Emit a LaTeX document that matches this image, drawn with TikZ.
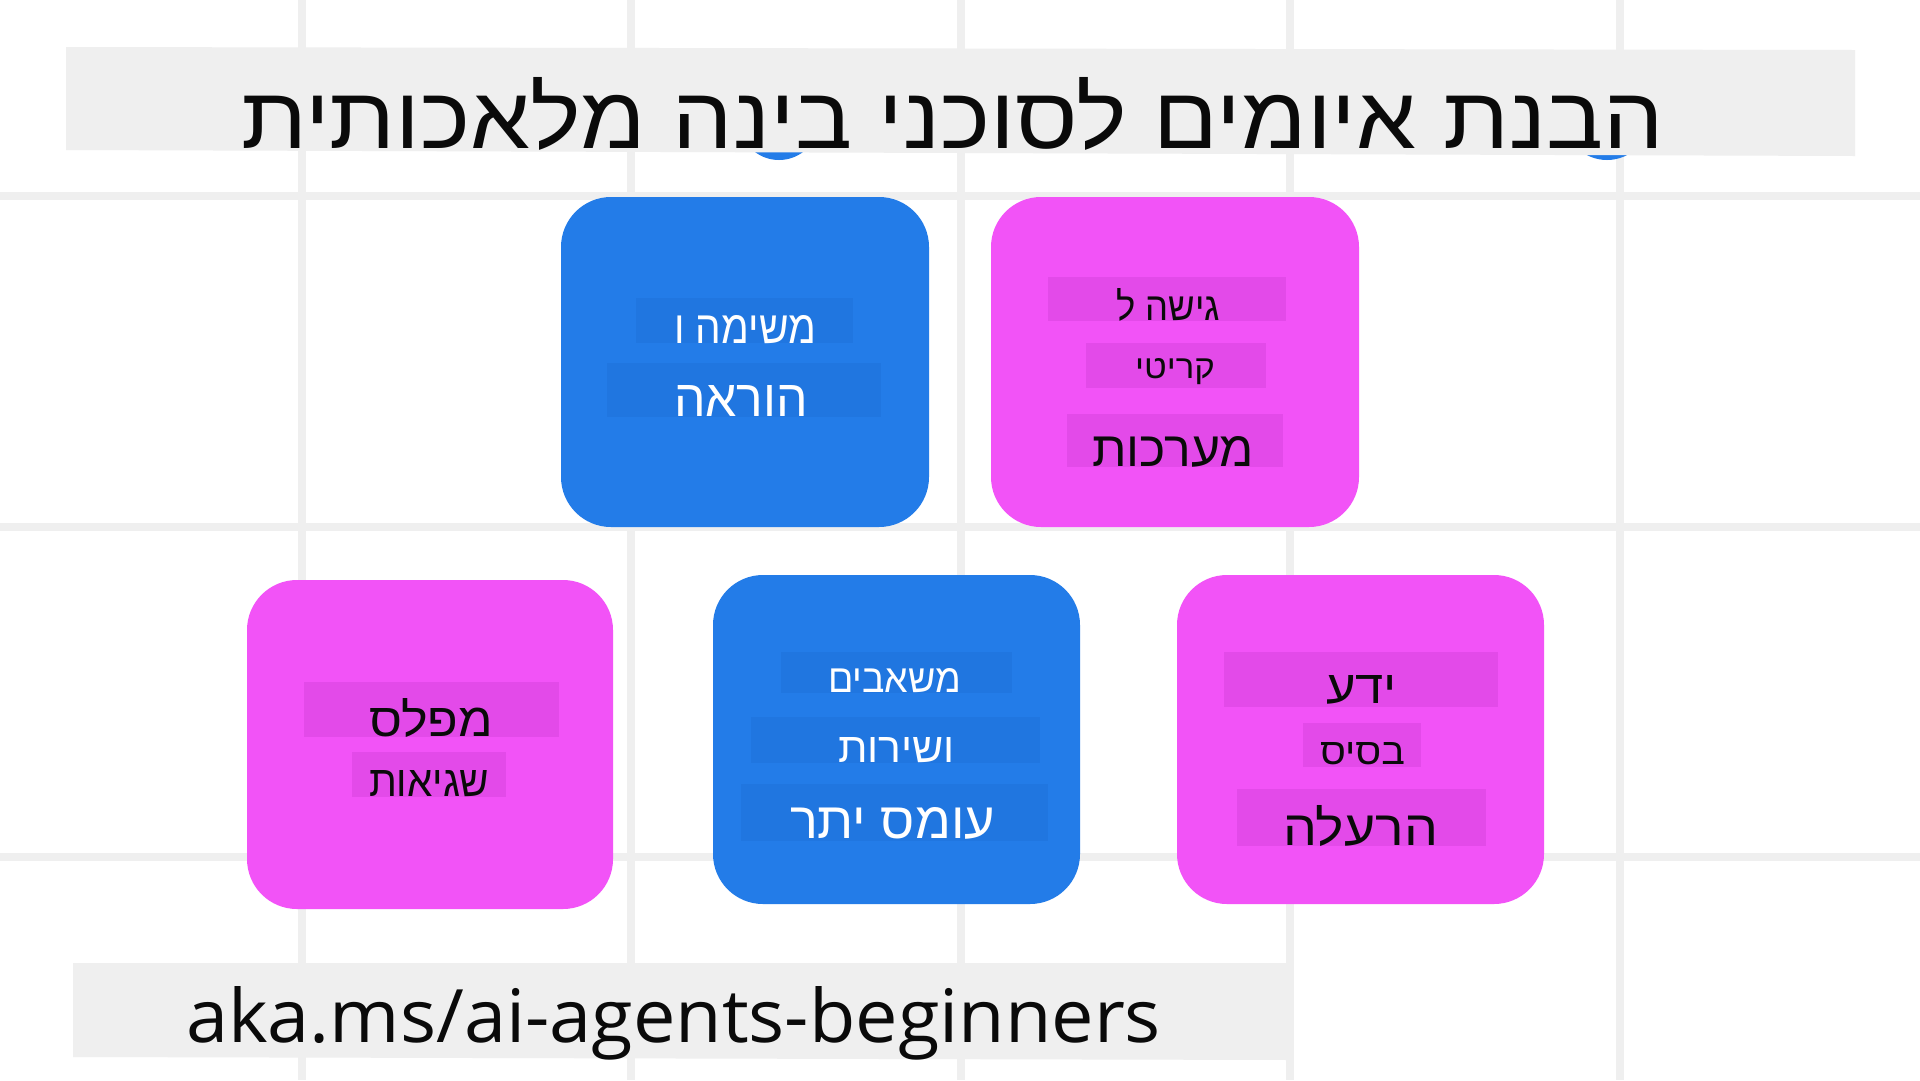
\documentclass[tikz,border=0pt]{standalone}
\usepackage{fontspec}
\usepackage{graphicx}
\newfontfamily\hebfont[Script=Hebrew]{Liberation Sans}
\newfontfamily\urlfont{Open Sans}
\TeXXeTstate=1
\definecolor{gridc}{HTML}{EFEFEF}
\definecolor{titlebg}{HTML}{EFEFEF}
\definecolor{blueA}{HTML}{237CE8}
\definecolor{blueB}{HTML}{2076E0}
\definecolor{pinkA}{HTML}{F253F7}
\definecolor{pinkB}{HTML}{E34AE9}
\definecolor{ink}{HTML}{0A0A0A}
\newcommand\fitR[3]{\resizebox{#1pt}{#2pt}{\hebfont #3}}
\begin{document}
\begin{tikzpicture}[x=1pt,y=-1pt,
  gridline/.style={draw=gridc,line width=8pt},
  card/.style={rectangle,rounded corners=50pt,inner sep=0pt,outer sep=0pt,draw=none},
  lbl/.style={inner sep=0pt,outer sep=0pt,anchor=base west}]
\useasboundingbox (0,0) rectangle (1920,1080);
\fill[white] (0,0) rectangle (1920,1080);
% grid
\foreach \x in {302,631,961,1290,1620} \draw[gridline] (\x,0) -- (\x,1080);
\foreach \y in {196,527,857} \draw[gridline] (0,\y) -- (1920,\y);
% blue dots peeking under the title
\fill[blueA] (779,120) circle (40);
\fill[blueA] (1607,117) circle (43);
% title
\fill[titlebg] (66,47) -- (1855,50) -- (1855,156) -- (66,150) -- cycle;
\node[lbl,text=ink] (title) at (241,148) {\fitR{1422}{71}{\beginR הבנת איומים לסוכני בינה מלאכותית\endR}};
% cards
\node[card,fill=blueA,minimum width=368pt,minimum height=330pt] (b1) at (745,362) {};
\node[card,fill=pinkA,minimum width=368pt,minimum height=330pt] (p1) at (1175,362) {};
\node[card,fill=pinkA,minimum width=366pt,minimum height=329pt] (p2) at (430,744.5) {};
\node[card,fill=blueA,minimum width=367pt,minimum height=329pt] (b2) at (896.5,739.5) {};
\node[card,fill=pinkA,minimum width=367pt,minimum height=329pt] (p3) at (1360.5,739.5) {};
% bands
\fill[blueB] (636,298) rectangle (853,343);
\fill[blueB] (607,363) rectangle (881,417);
\fill[pinkB] (1048,277) rectangle (1286,321);
\fill[pinkB] (1086,343) rectangle (1266,388);
\fill[pinkB] (1067,414) rectangle (1283,467);
\fill[pinkB] (304,682) rectangle (559,737);
\fill[pinkB] (352,752) rectangle (506,797);
\fill[blueB] (781,652) rectangle (1012,693);
\fill[blueB] (751,717) rectangle (1040,763);
\fill[blueB] (741,784) rectangle (1048,841);
\fill[pinkB] (1224,652) rectangle (1498,707);
\fill[pinkB] (1303,723) rectangle (1421,767);
\fill[pinkB] (1237,789) rectangle (1486,846);
% labels
\node[lbl,text=white] (b1a) at (674,343) {\fitR{142}{28}{\beginR משימה ו\endR}};
\node[lbl,text=white] (b1b) at (674,416) {\fitR{134}{31}{\beginR הוראה\endR}};
\node[lbl,text=ink] (p1a) at (1116,320) {\fitR{104}{32}{\beginR גישה ל\endR}};
\node[lbl,text=ink] (p1b) at (1135,378) {\fitR{80}{20}{\beginR קריטי\endR}};
\node[lbl,text=ink] (p1c) at (1092,466) {\fitR{162}{30}{\beginR מערכות\endR}};
\node[lbl,text=ink] (p2a) at (369,736) {\fitR{124}{38}{\beginR מפלס\endR}};
\node[lbl,text=ink] (p2b) at (369,796) {\fitR{120}{26}{\beginR שגיאות\endR}};
\node[lbl,text=white] (b2a) at (828,692) {\fitR{133}{24}{\beginR משאבים\endR}};
\node[lbl,text=white] (b2b) at (838,762) {\fitR{117}{25}{\beginR ושירות\endR}};
\node[lbl,text=white] (b2c) at (790,838) {\fitR{205}{31}{\beginR עומס יתר\endR}};
\node[lbl,text=ink] (p3a) at (1326,703) {\fitR{71}{28}{\beginR ידע\endR}};
\node[lbl,text=ink] (p3b) at (1320,764) {\fitR{85}{22}{\beginR בסיס\endR}};
\node[lbl,text=ink] (p3c) at (1283,845) {\fitR{155}{40}{\beginR הרעלה\endR}};
% url
\fill[titlebg] (73,963) -- (1292,963) -- (1292,1060) -- (73,1057) -- cycle;
\node[lbl,text=ink] (url) at (186,1042) {\resizebox{975pt}{56pt}{\urlfont aka.ms/ai-agents-beginners}};
\end{tikzpicture}
\end{document}
